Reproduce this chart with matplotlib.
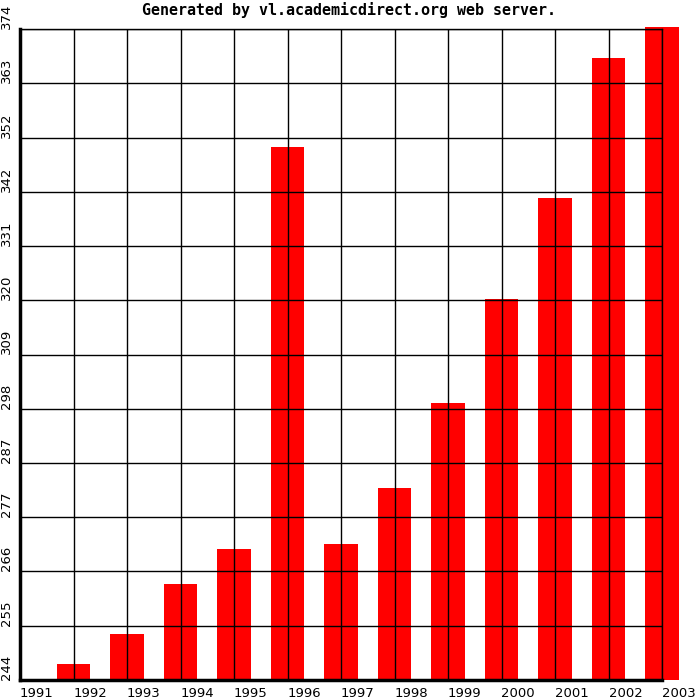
import matplotlib
matplotlib.use('Agg')
import matplotlib.pyplot as plt

years = [1992, 1993, 1994, 1995, 1996, 1997, 1998, 1999, 2000, 2001, 2002, 2003]
values = [247.2, 253.2, 263.2, 270.2, 350.4, 271.2, 282.3, 299.3, 320.1, 340.2, 368.2, 374.3]

x_ticks = list(range(1991, 2004))
y_ticks = [244 + i * 130 / 12 for i in range(13)]
y_labels = ['244', '255', '266', '277', '287', '298', '309', '320', '331', '342', '352', '363', '374']

fig = plt.figure(figsize=(7, 7), dpi=100)
ax = fig.add_axes([20 / 700, 20 / 700, 642 / 700, 651 / 700])

bars = ax.bar(years, [v - 244 for v in values], bottom=244, width=0.62,
              color='#ff0000', zorder=1)
for b in bars:
	b.set_clip_on(False)

ax.set_xlim(1991, 2003)
ax.set_ylim(244, 374)

ax.set_xticks(x_ticks)
ax.set_xticklabels([str(y) for y in x_ticks], ha='left', fontsize=9.5)
ax.set_yticks(y_ticks)
ax.set_yticklabels(y_labels, rotation=90, va='bottom', ha='right', fontsize=9.5)

ax.tick_params(axis='both', length=0)
ax.tick_params(axis='x', pad=5)
ax.tick_params(axis='y', pad=5)

ax.grid(True, color='black', linewidth=1)
ax.set_axisbelow(False)

ax.spines['left'].set_linewidth(2.5)
ax.spines['bottom'].set_linewidth(2.5)
ax.spines['top'].set_linewidth(1)
ax.spines['right'].set_linewidth(1)

fig.text(0.4986, 1 - 10 / 700, 'Generated by vl.academicdirect.org web server.',
         ha='center', va='center', family='DejaVu Sans Mono', fontweight='bold',
         fontsize=10.8)

fig.savefig('out.png', dpi=100)
